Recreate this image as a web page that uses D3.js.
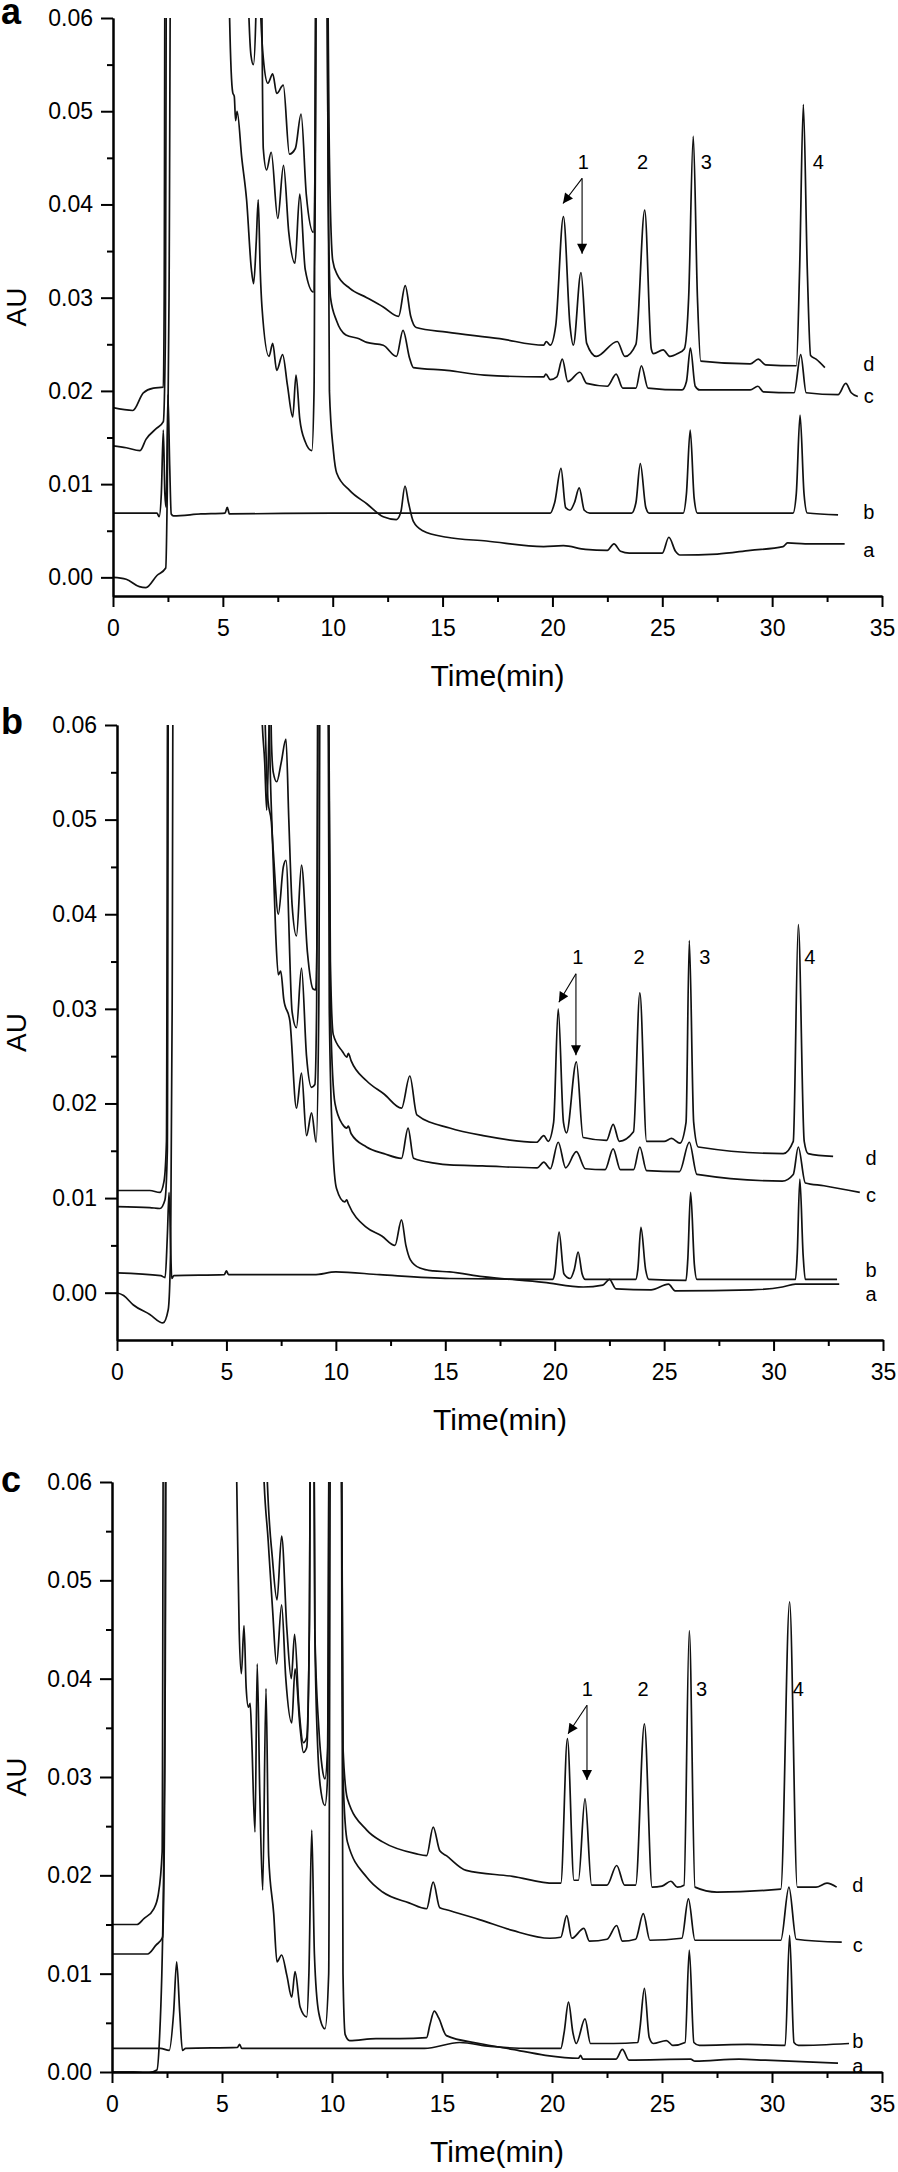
<!DOCTYPE html>
<html>
<head>
<meta charset="utf-8">
<script src="https://cdn.jsdelivr.net/npm/d3@7"></script>
<style>
  html, body { margin: 0; padding: 0; background: #fff; }
  svg { display: block; }
  text { font-family: "Liberation Sans", Arial, Helvetica, sans-serif; fill: #000; }
</style>
</head>
<body>
<svg id="chart" width="898" height="2172"></svg>
<script>
// ---------------- DATA ----------------
const panelLetters = ["a", "b", "c"];
const traceNames = ["a", "b", "c", "d"];
const peakNames = ["1", "2", "3", "4"];
const xTickValues = [0, 5, 10, 15, 20, 25, 30, 35];
const xMinorValues = [2.5, 7.5, 12.5, 17.5, 22.5, 27.5, 32.5];
const yTickValues = [0, 0.01, 0.02, 0.03, 0.04, 0.05, 0.06];
const yMinorValues = [-0.005, 0.005, 0.015, 0.025, 0.035, 0.045, 0.055];
const xTitle = "Time(min)";
const yTitle = "AU";

// Panel a traces  [time (min), AU]
const panelA_a = [[0,0.0],[0.6,-0.0002],[1.2,-0.0010],[1.5,-0.0011],[2.0,0.0002],[2.4,0.0010],[2.47,0.0093],[2.55,0.03],[2.65,0.08],[5.2,0.08],[5.29,0.062],[5.45,0.052],[5.52,0.0516],[5.58,0.049],[5.65,0.050],[5.86,0.045],[6.08,0.0405],[6.3,0.033],[6.4,0.0315],[6.52,0.036],[6.61,0.0405],[6.7,0.033],[6.78,0.029],[7.1,0.0237],[7.27,0.0251],[7.45,0.0222],[7.72,0.0239],[7.94,0.0206],[8.18,0.0172],[8.33,0.0217],[8.5,0.017],[8.74,0.0146],[9.05,0.0136],[9.15,0.02],[9.25,0.08],[9.7,0.08],[9.85,0.02],[10.03,0.0136],[10.18,0.0112],[10.78,0.0093],[11.55,0.0079],[12.3,0.0065],[12.9,0.0062],[13.1,0.007],[13.29,0.0098],[13.45,0.008],[13.67,0.006],[14.1,0.005],[15.2,0.0043],[17,0.0039],[19.6,0.0033],[20.5,0.0034],[21.5,0.003],[22.5,0.0029],[22.8,0.0036],[23.1,0.0028],[23.5,0.0026],[25.0,0.0026],[25.3,0.0043],[25.6,0.0028],[25.8,0.0024],[27.5,0.0025],[29.0,0.0029],[30.5,0.0033],[30.7,0.0037],[31.5,0.0036],[33.3,0.0036]];
const panelA_b = [[0,0.0069],[2.0,0.0069],[2.1,0.0065],[2.2,0.009],[2.29,0.0158],[2.36,0.009],[2.42,0.0075],[2.5,0.0196],[2.58,0.012],[2.65,0.0068],[2.75,0.0066],[4.0,0.0068],[5.1,0.0069],[5.2,0.0075],[5.3,0.0068],[10,0.0069],[15,0.0069],[19.9,0.0069],[20.1,0.008],[20.39,0.0117],[20.6,0.0075],[20.8,0.0072],[21.0,0.008],[21.22,0.0096],[21.45,0.0072],[21.7,0.0069],[23.6,0.0069],[23.8,0.008],[24.0,0.0122],[24.25,0.0075],[24.4,0.0069],[25.95,0.0069],[26.1,0.009],[26.27,0.0158],[26.45,0.0085],[26.6,0.0069],[30.95,0.0069],[31.1,0.009],[31.27,0.0174],[31.45,0.009],[31.6,0.0069],[33.0,0.0067]];
const panelA_c = [[0,0.0141],[0.6,0.0139],[1.23,0.0136],[1.5,0.0148],[1.99,0.016],[2.29,0.0167],[2.38,0.025],[2.45,0.08],[6.0,0.08],[6.16,0.062],[6.28,0.056],[6.39,0.055],[6.5,0.06],[6.58,0.08],[6.7,0.08],[6.84,0.046],[6.99,0.0437],[7.2,0.0456],[7.5,0.0385],[7.76,0.0442],[8.0,0.037],[8.28,0.0337],[8.5,0.0411],[8.75,0.033],[9.12,0.0306],[9.2,0.04],[9.28,0.08],[9.7,0.08],[9.8,0.04],[9.9,0.030],[10.18,0.0275],[10.6,0.026],[11.2,0.0256],[11.55,0.0252],[12.3,0.0249],[12.9,0.0237],[13.2,0.0265],[13.5,0.0235],[13.67,0.0225],[15.2,0.0222],[16.9,0.0217],[19.6,0.0215],[19.7,0.0218],[19.9,0.0212],[20.2,0.0215],[20.45,0.0234],[20.7,0.021],[21.25,0.022],[21.56,0.0208],[22.5,0.0205],[22.9,0.0218],[23.2,0.0203],[23.8,0.0203],[24.05,0.0227],[24.35,0.0203],[25.9,0.0201],[26.1,0.021],[26.28,0.0246],[26.5,0.0205],[26.7,0.0201],[29.0,0.0201],[29.35,0.0205],[29.6,0.0199],[31.0,0.0198],[31.3,0.0239],[31.55,0.0198],[33.0,0.0196],[33.35,0.0208],[33.6,0.0198],[33.9,0.0194]];
const panelA_d = [[0,0.0182],[0.9,0.0179],[1.38,0.0198],[1.84,0.0203],[2.29,0.0204],[2.33,0.03],[2.38,0.08],[6.55,0.08],[6.7,0.062],[6.84,0.0557],[7.05,0.053],[7.27,0.054],[7.45,0.0519],[7.75,0.0528],[8.03,0.0454],[8.3,0.046],[8.56,0.0497],[8.8,0.041],[9.12,0.037],[9.2,0.045],[9.28,0.08],[9.7,0.08],[9.85,0.045],[10.0,0.034],[10.2,0.0325],[10.78,0.031],[11.55,0.030],[12.3,0.029],[13.0,0.028],[13.3,0.0313],[13.55,0.028],[13.8,0.0268],[15.2,0.0263],[17.6,0.0256],[19.6,0.0249],[19.72,0.0253],[19.9,0.0249],[20.15,0.027],[20.5,0.0387],[20.8,0.027],[20.95,0.0249],[21.3,0.0327],[21.56,0.0251],[22.0,0.0237],[22.95,0.0253],[23.3,0.0237],[23.8,0.025],[24.2,0.0394],[24.5,0.0245],[24.6,0.024],[25.04,0.0244],[25.35,0.0237],[25.7,0.024],[26.0,0.0245],[26.2,0.03],[26.41,0.0473],[26.6,0.03],[26.75,0.0232],[29.0,0.0229],[29.37,0.0234],[29.7,0.0228],[31.1,0.0227],[31.25,0.033],[31.42,0.0507],[31.6,0.033],[31.75,0.0238],[32.0,0.0234],[32.4,0.0225]];

// Panel b traces
const panelB_a = [[0,0.0],[0.3,-0.0003],[0.75,-0.0013],[1.5,-0.0023],[2.1,-0.0032],[2.34,-0.0018],[2.45,0.0045],[2.52,0.03],[2.58,0.08],[6.9,0.08],[6.95,0.062],[7.1,0.048],[7.25,0.038],[7.37,0.0336],[7.48,0.034],[7.62,0.031],[7.9,0.0287],[8.2,0.0195],[8.43,0.0232],[8.66,0.0166],[8.89,0.019],[9.1,0.0159],[9.22,0.03],[9.3,0.08],[9.62,0.08],[9.7,0.03],[9.85,0.016],[10.03,0.011],[10.4,0.0096],[10.5,0.0098],[10.57,0.0094],[11.4,0.0069],[12.1,0.006],[12.7,0.005],[13.0,0.0077],[13.2,0.005],[13.4,0.0035],[13.84,0.0026],[14.45,0.0023],[15.2,0.0022],[16.7,0.0017],[19.5,0.0011],[21.3,0.0006],[22.2,0.0008],[22.5,0.0014],[22.8,0.0004],[24.4,0.0003],[25.2,0.0009],[25.5,0.0002],[29.0,0.0003],[30.4,0.0006],[31.0,0.0009],[33.0,0.0009]];
const panelB_b = [[0,0.0021],[2.0,0.0018],[2.2,0.0016],[2.3,0.006],[2.38,0.0106],[2.46,0.004],[2.5,0.0015],[2.6,0.0018],[4.9,0.0019],[5.0,0.0023],[5.1,0.0019],[9,0.0019],[10,0.0022],[12,0.0019],[15.2,0.0015],[19.9,0.0014],[20.0,0.002],[20.2,0.0064],[20.42,0.002],[20.7,0.0015],[20.9,0.0025],[21.07,0.0043],[21.25,0.002],[21.4,0.0014],[23.7,0.0014],[23.8,0.0025],[23.94,0.0069],[24.15,0.0025],[24.3,0.0014],[26.0,0.0013],[26.08,0.0035],[26.21,0.0106],[26.38,0.003],[26.5,0.0014],[31.0,0.0014],[31.08,0.004],[31.2,0.012],[31.35,0.004],[31.45,0.0014],[32.9,0.0014]];
const panelB_c = [[0,0.0091],[1.5,0.009],[1.96,0.0089],[2.19,0.0098],[2.3,0.015],[2.36,0.08],[6.6,0.08],[6.75,0.062],[6.9,0.052],[7.05,0.0498],[7.14,0.0467],[7.37,0.040],[7.6,0.045],[7.72,0.0457],[8.0,0.0297],[8.2,0.028],[8.43,0.0343],[8.66,0.025],[8.89,0.0217],[9.04,0.022],[9.12,0.03],[9.2,0.08],[9.62,0.08],[9.75,0.03],[9.96,0.02],[10.3,0.0178],[10.5,0.0174],[10.57,0.0176],[10.7,0.0168],[11.4,0.0154],[12.2,0.0147],[13.0,0.0142],[13.3,0.0174],[13.55,0.0142],[14.5,0.0137],[15.2,0.0135],[16.7,0.0134],[19.2,0.0132],[19.5,0.0138],[19.8,0.0131],[20.16,0.0159],[20.5,0.0132],[20.99,0.0149],[21.4,0.0131],[22.3,0.013],[22.67,0.0152],[23.0,0.013],[23.6,0.013],[23.89,0.0154],[24.2,0.0129],[25.7,0.0128],[26.15,0.0159],[26.5,0.0125],[30.4,0.0118],[30.9,0.0125],[31.13,0.0154],[31.45,0.0116],[32.3,0.0113],[33.94,0.0106]];
const panelB_d = [[0,0.0108],[1.5,0.0108],[1.96,0.0106],[2.15,0.0118],[2.26,0.016],[2.33,0.08],[6.5,0.08],[6.61,0.062],[6.75,0.056],[6.84,0.051],[6.95,0.06],[7.0,0.065],[7.06,0.058],[7.14,0.055],[7.3,0.054],[7.5,0.056],[7.72,0.0585],[7.85,0.05],[8.0,0.041],[8.2,0.0377],[8.43,0.0452],[8.7,0.036],[8.96,0.0321],[9.08,0.032],[9.15,0.04],[9.22,0.08],[9.62,0.08],[9.75,0.035],[9.88,0.0273],[10.3,0.0255],[10.5,0.0249],[10.57,0.0253],[10.7,0.0245],[11.4,0.0224],[12.2,0.021],[13.0,0.0195],[13.38,0.0229],[13.7,0.0188],[15.2,0.0174],[16.73,0.0166],[19.17,0.0159],[19.5,0.0166],[19.7,0.016],[19.95,0.018],[20.16,0.030],[20.4,0.018],[20.54,0.0169],[20.99,0.0244],[21.3,0.0164],[22.37,0.0161],[22.67,0.0178],[22.95,0.016],[23.6,0.017],[23.89,0.0317],[24.2,0.016],[25.0,0.016],[25.34,0.0163],[25.72,0.0158],[26.0,0.018],[26.15,0.0372],[26.35,0.018],[26.56,0.0154],[30.44,0.0147],[30.9,0.016],[31.13,0.0389],[31.4,0.016],[31.58,0.0147],[32.72,0.0144]];

// Panel c traces
const panelC_a = [[0,0.0],[1.0,0.0],[1.6,-0.0001],[2.04,0.0002],[2.15,0.003],[2.33,0.0176],[2.42,0.04],[2.48,0.08],[5.5,0.08],[5.67,0.060],[5.78,0.045],[5.88,0.0405],[6.0,0.0454],[6.1,0.039],[6.2,0.0371],[6.28,0.0375],[6.35,0.034],[6.5,0.0244],[6.6,0.0415],[6.72,0.028],[6.85,0.0185],[7.0,0.039],[7.12,0.022],[7.35,0.0161],[7.5,0.0112],[7.71,0.0119],[7.95,0.0098],[8.17,0.0076],[8.32,0.0102],[8.55,0.0066],[8.85,0.0056],[8.95,0.01],[9.08,0.0246],[9.2,0.012],[9.4,0.006],[9.68,0.0044],[9.85,0.01],[9.95,0.08],[10.4,0.08],[10.5,0.01],[10.6,0.0038],[10.8,0.0032],[12.0,0.0034],[13.09,0.0034],[14.3,0.0035],[14.45,0.0048],[14.65,0.0062],[14.85,0.0055],[15.2,0.0037],[16.7,0.0029],[18.2,0.0023],[19.7,0.0017],[21.2,0.0014],[21.3,0.0017],[21.4,0.0013],[22.9,0.0013],[23.2,0.0023],[23.5,0.0012],[26.3,0.0013],[26.5,0.0011],[28.5,0.0013],[29.7,0.0012],[33.0,0.0009]];
const panelC_b = [[0,0.0024],[2.2,0.0024],[2.6,0.0022],[2.8,0.006],[2.94,0.0112],[3.08,0.006],[3.2,0.0022],[3.35,0.0024],[5.7,0.0025],[5.8,0.0028],[5.9,0.0024],[9,0.0024],[12,0.0024],[14.2,0.0024],[15.8,0.003],[17.2,0.0026],[19.0,0.0024],[20.4,0.0024],[20.55,0.004],[20.75,0.0071],[20.95,0.004],[21.1,0.0029],[21.5,0.0054],[21.75,0.0029],[22.8,0.0029],[23.9,0.003],[24.0,0.0045],[24.2,0.0085],[24.42,0.0035],[24.6,0.0029],[25.2,0.0032],[25.5,0.0027],[26.05,0.003],[26.24,0.0124],[26.45,0.003],[26.7,0.0027],[28.9,0.0028],[30.6,0.0027],[30.8,0.0139],[31.0,0.003],[31.2,0.0027],[33.5,0.0029]];
const panelC_c = [[0,0.012],[1.62,0.012],[2.0,0.0129],[2.3,0.0137],[2.4,0.03],[2.45,0.08],[6.7,0.08],[6.88,0.062],[7.1,0.054],[7.3,0.047],[7.48,0.0415],[7.71,0.0475],[7.9,0.040],[8.17,0.0355],[8.32,0.041],[8.55,0.035],[8.7,0.0325],[8.85,0.033],[8.97,0.045],[9.05,0.08],[9.15,0.08],[9.22,0.045],[9.35,0.033],[9.5,0.0285],[9.68,0.0271],[9.8,0.03],[9.9,0.08],[10.4,0.08],[10.5,0.03],[10.7,0.0234],[11.58,0.0198],[12.3,0.0183],[13.5,0.0172],[14.3,0.0166],[14.6,0.0193],[14.9,0.0167],[15.2,0.0165],[16.7,0.0155],[18.2,0.0144],[19.9,0.0136],[20.4,0.0137],[20.67,0.0159],[20.9,0.0136],[21.45,0.0146],[21.7,0.0133],[22.5,0.0135],[22.94,0.0149],[23.2,0.0133],[23.8,0.0135],[24.15,0.0161],[24.45,0.0134],[25.9,0.0136],[26.2,0.0176],[26.5,0.0134],[30.4,0.0134],[30.77,0.0188],[31.1,0.0135],[33.17,0.0132]];
const panelC_d = [[0,0.015],[1.13,0.015],[1.45,0.0156],[1.9,0.0166],[2.1,0.018],[2.28,0.0224],[2.35,0.08],[6.9,0.08],[7.03,0.062],[7.3,0.052],[7.5,0.048],[7.71,0.0545],[7.95,0.045],[8.15,0.040],[8.3,0.0445],[8.5,0.037],[8.7,0.0335],[8.85,0.034],[8.97,0.045],[9.05,0.08],[9.15,0.08],[9.22,0.045],[9.4,0.035],[9.55,0.031],[9.68,0.0298],[9.8,0.033],[9.9,0.08],[10.4,0.08],[10.5,0.033],[10.7,0.0278],[11.58,0.0246],[12.3,0.0234],[13.8,0.0222],[14.3,0.022],[14.6,0.0249],[14.9,0.0225],[15.2,0.022],[16.1,0.0205],[18.2,0.0199],[20.1,0.0192],[20.4,0.0192],[20.7,0.0339],[21.0,0.0195],[21.2,0.0195],[21.5,0.0278],[21.8,0.019],[22.5,0.019],[22.94,0.021],[23.3,0.019],[23.8,0.019],[24.2,0.0354],[24.55,0.0188],[25.0,0.0189],[25.4,0.0194],[25.7,0.0188],[26.0,0.019],[26.24,0.0449],[26.5,0.0188],[27.5,0.0183],[30.4,0.0186],[30.8,0.0478],[31.15,0.0188],[32.0,0.0188],[32.5,0.0192],[32.94,0.0188]];

// Annotations (data coordinates)
const peakLabelPosA = [[21.4,0.0446],[24.1,0.0446],[27.0,0.0446],[32.1,0.0446]];
const peakLabelPosB = [[21.06,0.0355],[23.85,0.0355],[26.86,0.0355],[31.66,0.0355]];
const peakLabelPosC = [[21.6,0.039],[24.14,0.039],[26.8,0.039],[31.2,0.039]];
const arrowA = {start:[21.35,0.0428], tips:[[20.48,0.0401],[21.35,0.0347]]};
const arrowB = {start:[20.97,0.0337], tips:[[20.19,0.0307],[20.97,0.0251]]};
const arrowC = {start:[21.59,0.0373], tips:[[20.73,0.0344],[21.59,0.0297]]};
const traceLabelPosA = [[34.4,0.0029],[34.4,0.0070],[34.4,0.0194],[34.4,0.0229]];
const traceLabelPosB = [[34.45,-0.0001],[34.45,0.0024],[34.45,0.0103],[34.45,0.0142]];
const traceLabelPosC = [[33.9,0.0006],[33.9,0.0032],[33.9,0.0129],[33.9,0.0190]];
const yDomains = [[-0.002,0.06],[-0.005,0.06],[0,0.06]];

// ---------------- LAYOUT ----------------
const layout = [
  {x0:113, x1:882, yTop:18,   yBot:596,  letterY:24},
  {x0:117, x1:883, yTop:725,  yBot:1340, letterY:734},
  {x0:112, x1:882, yTop:1482, yBot:2072, letterY:1492}
];
const panelData = [
  {traces:[panelA_a,panelA_b,panelA_c,panelA_d], peaks:peakLabelPosA, arrow:arrowA, tl:traceLabelPosA},
  {traces:[panelB_a,panelB_b,panelB_c,panelB_d], peaks:peakLabelPosB, arrow:arrowB, tl:traceLabelPosB},
  {traces:[panelC_a,panelC_b,panelC_c,panelC_d], peaks:peakLabelPosC, arrow:arrowC, tl:traceLabelPosC}
];

const svg = d3.select("#chart");
const defs = svg.append("defs");
defs.append("marker").attr("id","arrowhead")
  .attr("viewBox","0 0 10 10").attr("refX",10).attr("refY",5)
  .attr("markerWidth",12).attr("markerHeight",10).attr("markerUnits","userSpaceOnUse")
  .attr("orient","auto")
  .append("path").attr("d","M0,0 L10,5 L0,10 z").attr("fill","#000");

layout.forEach((L, i) => {
  const P = panelData[i];
  const dom = yDomains[i];
  const x = d3.scaleLinear().domain([0,35]).range([L.x0, L.x1]);
  const y = d3.scaleLinear().domain(dom).range([L.yBot, L.yTop]);
  const g = svg.append("g");

  const clipId = "clip" + i;
  defs.append("clipPath").attr("id", clipId).append("rect")
    .attr("x", L.x0).attr("y", L.yTop).attr("width", L.x1 - L.x0).attr("height", L.yBot - L.yTop);

  // traces
  const line = d3.line().x(d => x(d[0])).y(d => y(d[1])).curve(d3.curveMonotoneX);
  const tg = g.append("g").attr("clip-path", `url(#${clipId})`);
  P.traces.forEach(tr => {
    tg.append("path").datum(tr).attr("d", line)
      .attr("fill","none").attr("stroke","#111").attr("stroke-width",1.7)
      .attr("stroke-linejoin","round");
  });

  // axes
  const yAxis = d3.axisLeft(y).tickValues(yTickValues).tickFormat(d3.format(".2f"))
    .tickSize(12).tickSizeOuter(0).tickPadding(8);
  const yMinor = d3.axisLeft(y).tickValues(yMinorValues.filter(v => v > dom[0]))
    .tickFormat("").tickSize(6).tickSizeOuter(0);
  const xAxis = d3.axisBottom(x).tickValues(xTickValues).tickFormat(d3.format("d"))
    .tickSize(11).tickSizeOuter(0).tickPadding(13);
  const xMinor = d3.axisBottom(x).tickValues(xMinorValues).tickFormat("").tickSize(6).tickSizeOuter(0);

  const axStyle = sel => {
    sel.selectAll("path, line").attr("stroke","#000").attr("stroke-width",2);
    sel.selectAll("text").attr("font-size",23).attr("fill","#000")
      .attr("font-family","'Liberation Sans', Arial, sans-serif");
  };
  g.append("g").attr("transform",`translate(${L.x0},0)`).call(yAxis).call(axStyle);
  g.append("g").attr("transform",`translate(${L.x0},0)`).call(yMinor).call(axStyle);
  g.append("g").attr("transform",`translate(0,${L.yBot})`).call(xAxis).call(axStyle);
  g.append("g").attr("transform",`translate(0,${L.yBot})`).call(xMinor).call(axStyle);

  // titles
  g.append("text").attr("x",(L.x0+L.x1)/2).attr("y",L.yBot+90)
    .attr("text-anchor","middle").attr("font-size",29)
    .attr("textLength",134).attr("lengthAdjust","spacingAndGlyphs").text(xTitle);
  g.append("text").attr("transform",`translate(${26},${(L.yTop+L.yBot)/2}) rotate(-90)`)
    .attr("text-anchor","middle").attr("font-size",28).text(yTitle);
  g.append("text").attr("x",1).attr("y",L.letterY)
    .attr("font-size",36).attr("font-weight","bold").text(panelLetters[i]);

  // peak labels
  P.peaks.forEach((p, k) => {
    g.append("text").attr("x",x(p[0])).attr("y",y(p[1]))
      .attr("text-anchor","middle").attr("dominant-baseline","central")
      .attr("font-size",20).text(peakNames[k]);
  });
  // arrows
  P.arrow.tips.forEach(tip => {
    g.append("line").attr("x1",x(P.arrow.start[0])).attr("y1",y(P.arrow.start[1]))
      .attr("x2",x(tip[0])).attr("y2",y(tip[1]))
      .attr("stroke","#000").attr("stroke-width",1.1).attr("marker-end","url(#arrowhead)");
  });
  // trace labels
  P.tl.forEach((p, k) => {
    g.append("text").attr("x",x(p[0])).attr("y",y(p[1]))
      .attr("text-anchor","middle").attr("dominant-baseline","central")
      .attr("font-size",20).text(traceNames[k]);
  });
});
</script>
</body>
</html>
